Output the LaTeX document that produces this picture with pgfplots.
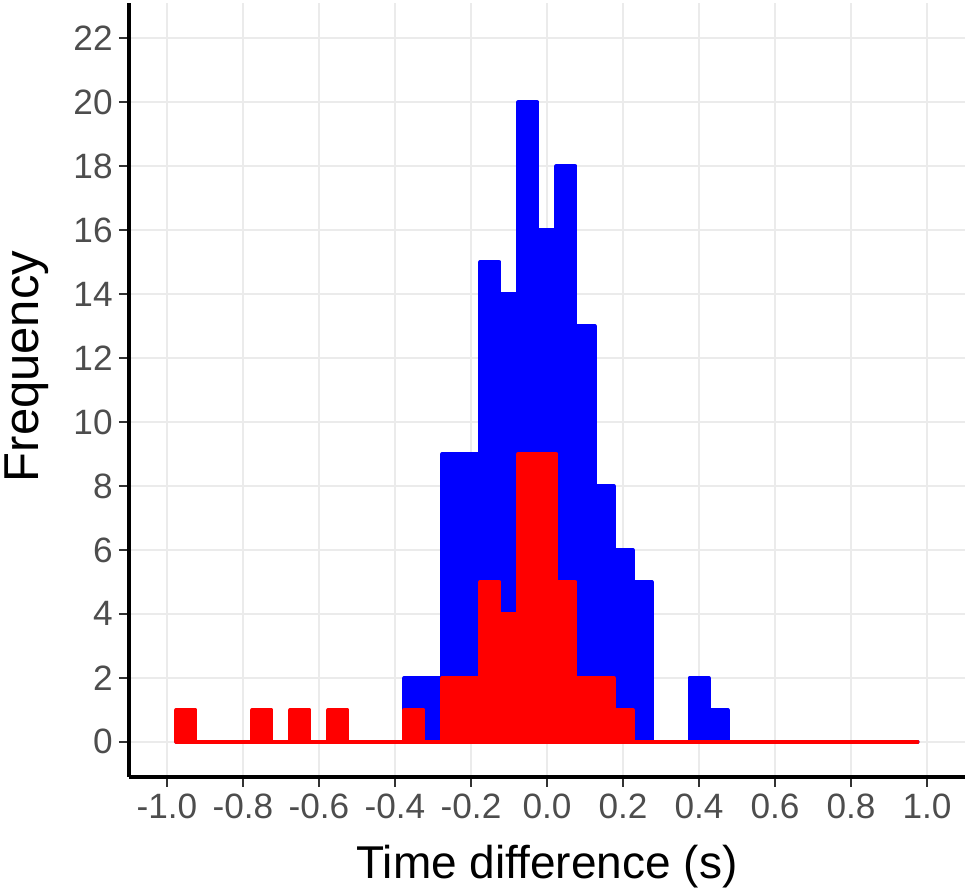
\documentclass[border=0pt]{standalone}
\usepackage{pgfplots}
\usepackage{pgfplotstable}
\pgfplotsset{compat=1.18}
\usepackage{fontspec}
\setmainfont{Liberation Sans}
\definecolor{gridc}{RGB}{235,235,235}
\definecolor{tickc}{RGB}{51,51,51}
\definecolor{labc}{RGB}{77,77,77}
\definecolor{barblue}{RGB}{0,0,255}
\definecolor{barred}{RGB}{255,0,0}

% left bin edge, count (last row = right edge of last bin)
\pgfplotstableread{
x y
-0.975 0
-0.925 0
-0.875 0
-0.825 0
-0.775 0
-0.725 0
-0.675 0
-0.625 0
-0.575 0
-0.525 0
-0.475 0
-0.425 0
-0.375 2
-0.325 2
-0.275 9
-0.225 9
-0.175 15
-0.125 14
-0.075 20
-0.025 16
0.025 18
0.075 13
0.125 8
0.175 6
0.225 5
0.275 0
0.325 0
0.375 2
0.425 1
0.475 0
0.525 0
0.575 0
0.625 0
0.675 0
0.725 0
0.775 0
0.825 0
0.875 0
0.925 0
0.975 0
}\bluedata

\pgfplotstableread{
x y
-0.975 1
-0.925 0
-0.875 0
-0.825 0
-0.775 1
-0.725 0
-0.675 1
-0.625 0
-0.575 1
-0.525 0
-0.475 0
-0.425 0
-0.375 1
-0.325 0
-0.275 2
-0.225 2
-0.175 5
-0.125 4
-0.075 9
-0.025 9
0.025 5
0.075 2
0.125 2
0.175 1
0.225 0
0.275 0
0.325 0
0.375 0
0.425 0
0.475 0
0.525 0
0.575 0
0.625 0
0.675 0
0.725 0
0.775 0
0.825 0
0.875 0
0.925 0
0.975 0
}\reddata

\begin{document}
\begin{tikzpicture}
\begin{axis}[
  scale only axis,
  width=418pt, height=387pt,
  xmin=-1.1, xmax=1.1,
  ymin=-1.1, ymax=23.1,
  axis lines*=left,
  axis line style={black, line width=1.7pt},
  xtick={-1,-0.8,-0.6,-0.4,-0.2,0,0.2,0.4,0.6,0.8,1},
  xticklabels={-1.0,-0.8,-0.6,-0.4,-0.2,0.0,0.2,0.4,0.6,0.8,1.0},
  ytick={0,2,4,6,8,10,12,14,16,18,20,22},
  yticklabels={0,2,4,6,8,10,12,14,16,18,20,22},
  tick align=outside,
  major tick length=5pt,
  minor tick num=0,
  tick style={tickc, line width=1.2pt},
  grid=major,
  grid style={gridc, line width=0.9pt},
  ticklabel style={font=\fontsize{17.6}{21}\selectfont, text=labc},
  xticklabel style={anchor=north, inner sep=0pt, yshift=-3.5pt},
  yticklabel style={anchor=east, inner sep=0pt, xshift=-3pt},
  xlabel={Time difference (s)},
  ylabel={Frequency},
  xlabel style={font=\fontsize{23}{27}\selectfont, text=black, at={(rel axis cs:0.5,0)}, anchor=center, yshift=-45pt},
  ylabel style={font=\fontsize{24.5}{29}\selectfont, text=black, at={(rel axis cs:0,0.5)}, anchor=center, yshift=51pt, xshift=11.75pt},
]
\addplot[const plot mark left, fill=barblue, draw=barblue, line width=2pt, line join=round] table[x=x,y=y] {\bluedata} \closedcycle;
\addplot[const plot mark left, fill=barred, draw=barred, line width=2pt, line join=round] table[x=x,y=y] {\reddata} \closedcycle;
\coordinate (ll) at (rel axis cs:0,0);
\coordinate (ur) at (rel axis cs:1,1);
\end{axis}
\pgfresetboundingbox
\path ([xshift=-64.5pt,yshift=-58pt]ll) rectangle ([xshift=2.5pt,yshift=1.5pt]ur);
\end{tikzpicture}
\end{document}
